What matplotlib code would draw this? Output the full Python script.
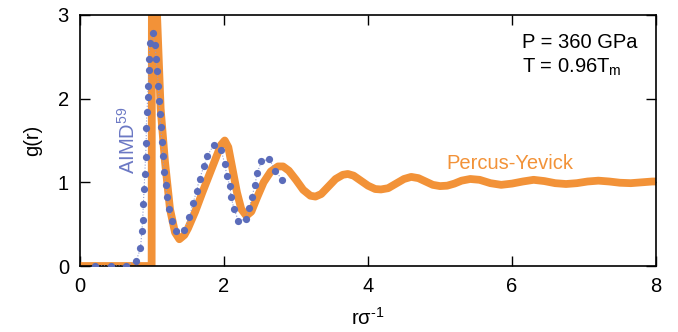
import numpy as np
import matplotlib
matplotlib.use('Agg')
import matplotlib.pyplot as plt

plt.rcParams['font.family'] = ['Liberation Sans', 'DejaVu Sans']
plt.rcParams['mathtext.fontset'] = 'custom'
plt.rcParams['mathtext.rm'] = 'Liberation Sans'
plt.rcParams['mathtext.it'] = 'Liberation Sans'

# Percus-Yevick g(r), hard spheres
py_r = [0.0, 0.995, 1.0, 1.03, 1.07, 1.12, 1.18, 1.25, 1.32, 1.38, 1.45, 1.5, 1.6, 1.7, 1.8, 1.9,
        1.96, 2.01, 2.06, 2.12, 2.18, 2.24, 2.31, 2.38, 2.46, 2.55, 2.65, 2.75, 2.82, 2.9, 3.0,
        3.1, 3.2, 3.27, 3.35, 3.45, 3.55, 3.65, 3.72, 3.8, 3.9, 4.0, 4.1, 4.18, 4.28, 4.38,
        4.5, 4.6, 4.7, 4.8, 4.9, 5.0, 5.1, 5.2, 5.3, 5.42, 5.55, 5.7, 5.85, 6.0, 6.15, 6.3,
        6.45, 6.6, 6.75, 6.9, 7.05, 7.2, 7.35, 7.5, 7.65, 7.8, 7.95, 8.0]
py_g = [0.0, 0.0, 4.6, 3.8, 3.0, 1.88, 1.25, 0.68, 0.40, 0.32, 0.37, 0.45, 0.65, 0.88, 1.10, 1.32,
        1.45, 1.50, 1.42, 1.15, 0.88, 0.68, 0.60, 0.65, 0.82, 1.0, 1.13, 1.19, 1.19, 1.14, 1.03,
        0.91, 0.84, 0.83, 0.86, 0.95, 1.04, 1.09, 1.10, 1.08, 1.02, 0.96, 0.92, 0.915, 0.93, 0.98,
        1.04, 1.065, 1.05, 1.01, 0.97, 0.955, 0.96, 0.985, 1.02, 1.04, 1.03, 0.99, 0.97, 0.985, 1.01, 1.03,
        1.015, 0.99, 0.98, 0.99, 1.01, 1.02, 1.01, 0.995, 0.99, 1.0, 1.01, 1.01]

# AIMD g(r)
md_r = [0.21, 0.43, 0.64, 0.78, 0.84, 0.86, 0.87, 0.88, 0.89, 0.90, 0.91, 0.92, 0.92, 0.93, 0.94,
        0.95, 0.96, 0.96, 0.97, 1.01, 1.04, 1.06, 1.07, 1.09, 1.10, 1.11, 1.12, 1.14, 1.15, 1.17,
        1.19, 1.21, 1.24, 1.28, 1.34, 1.45, 1.52, 1.57, 1.62, 1.66, 1.72, 1.77, 1.86, 1.96, 2.01,
        2.04, 2.08, 2.10, 2.14, 2.20, 2.30, 2.35, 2.39, 2.43, 2.46, 2.52, 2.63, 2.71, 2.81]
md_g = [0.0, 0.0, 0.0, 0.06, 0.21, 0.42, 0.55, 0.74, 0.92, 1.10, 1.30, 1.47, 1.65, 1.84, 2.02,
        2.15, 2.34, 2.48, 2.66, 2.79, 2.64, 2.48, 2.33, 2.15, 1.97, 1.82, 1.66, 1.48, 1.31, 1.12,
        0.97, 0.82, 0.68, 0.54, 0.42, 0.43, 0.58, 0.75, 0.90, 1.04, 1.19, 1.32, 1.45, 1.39, 1.22,
        1.08, 0.96, 0.82, 0.68, 0.54, 0.56, 0.69, 0.83, 0.97, 1.11, 1.25, 1.28, 1.14, 1.03]

orange = '#f29238'
blue = '#5b6cba'

fig = plt.figure(figsize=(6.78, 3.32), dpi=100)
ax = fig.add_axes([80/678, 66/332, 576/678, 251/332])

ax.plot(py_r, py_g, color=orange, lw=5.6, solid_joinstyle='round', solid_capstyle='butt', zorder=2)
ax.plot(md_r, md_g, color='#8f9ad3', lw=0.8, ls=':', zorder=3)
ax.plot(md_r, md_g, ls='none', marker='o', ms=5.2, color=blue, mec='none', zorder=4)

ax.set_xlim(0, 8)
ax.set_ylim(0, 3)
ax.set_xticks([0, 2, 4, 6, 8])
ax.set_yticks([0, 1, 2, 3])
ax.tick_params(direction='in', length=7, width=1, labelsize=14.5, top=True, right=True, pad=8)
for s in ax.spines.values():
    s.set_linewidth(1.2)

ax.set_xlabel('r\u03c3$^{\u2010 1}$'.replace(' ', ''), fontsize=14.5, labelpad=8)
ax.set_ylabel('g(r)', fontsize=14.5, labelpad=11)

ax.text(0.767, 0.868, 'P = 360 GPa', transform=ax.transAxes, fontsize=14.5)
ax.text(0.767, 0.769, r'T = 0.96T$_{\mathrm{m}}$', transform=ax.transAxes, fontsize=14.5)
ax.text(5.09, 1.165, 'Percus-Yevick', color=orange, fontsize=14.5)
ax.text(0.67, 1.5, r'AIMD$^{59}$', color='#6b78c4', fontsize=14.5, rotation=90,
        ha='center', va='center')

fig.savefig('out.png', dpi=100)
